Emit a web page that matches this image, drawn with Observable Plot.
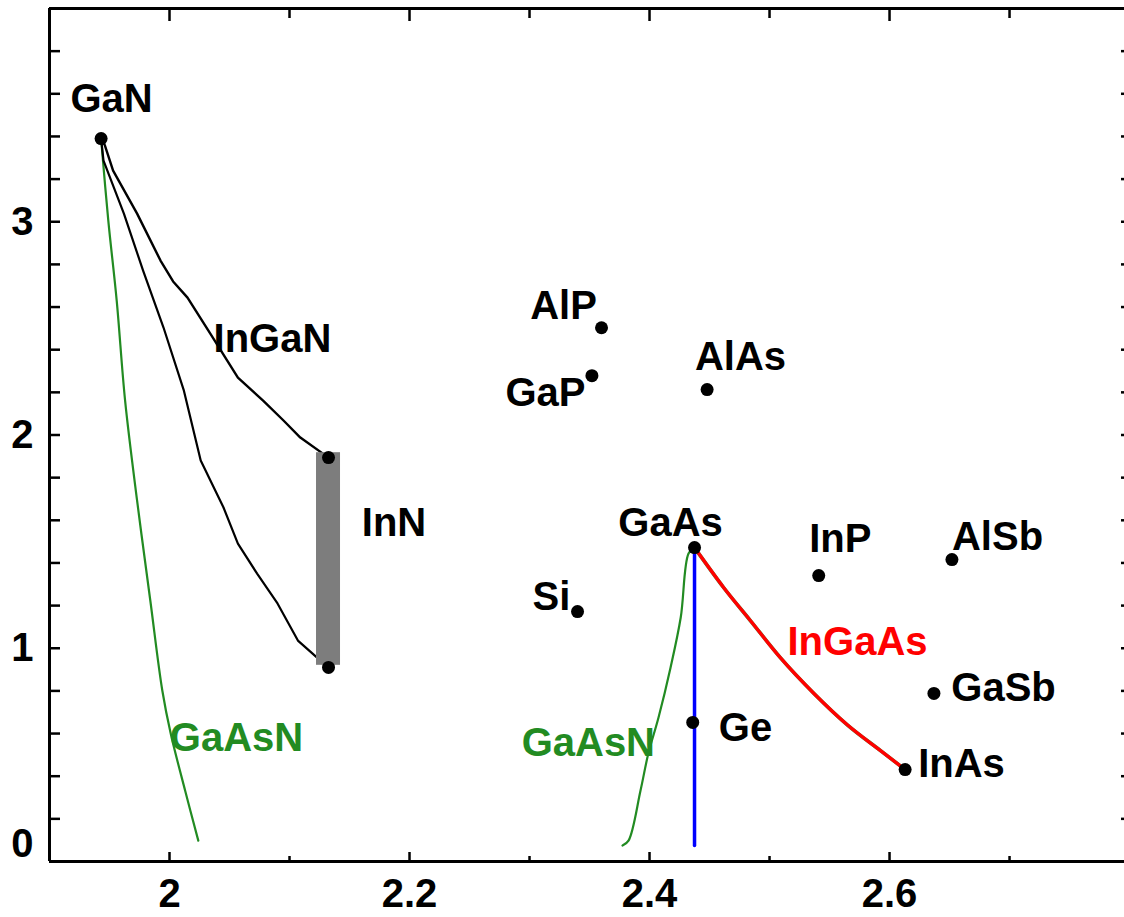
<!DOCTYPE html>
<html><head><meta charset="utf-8">
<script src="https://cdn.jsdelivr.net/npm/d3@7"></script>
<script src="https://cdn.jsdelivr.net/npm/@observablehq/plot@0.6"></script>
<style>body{margin:0;background:#fff}</style>
</head><body><div id="chart"></div>
<script>
// --- compounds (x: bond length, y: band gap) ---
const compoundNames = ["GaN","InN","InN","AlP","GaP","AlAs","GaAs","InP","AlSb","Si","Ge","GaSb","InAs"];
const compoundX = [1.943, 2.1325, 2.1325, 2.360, 2.352, 2.448, 2.4375, 2.541, 2.652, 2.340, 2.436, 2.637, 2.613];
const compoundY = [3.39, 1.894, 0.91, 2.503, 2.278, 2.213, 1.472, 1.341, 1.416, 1.172, 0.652, 0.788, 0.431];

// --- compound labels ---
const labelText = ["GaN","InN","AlP","GaP","AlAs","GaAs","InP","AlSb","Si","Ge","GaSb","InAs"];
const labelX = [1.9517, 2.1871, 2.3283, 2.3133, 2.4758, 2.4175, 2.559, 2.690, 2.3183, 2.480, 2.695, 2.660];
const labelY = [3.573, 1.585, 2.603, 2.195, 2.363, 1.585, 1.510, 1.519, 1.238, 0.624, 0.811, 0.455];

// --- alloy labels ---
const alloyText = ["InGaN","InGaAs","GaAsN","GaAsN"];
const alloyX = [2.0858, 2.5733, 2.0558, 2.349];
const alloyY = [2.448, 1.027, 0.577, 0.553];

// --- curves ---
const ganGaAsNX = [1.943, 1.949, 1.956, 1.963, 1.973, 1.984, 1.994, 2.001, 2.013, 2.024];
const ganGaAsNY = [3.39, 3.005, 2.63, 2.161, 1.692, 1.224, 0.802, 0.60, 0.333, 0.098];

const inganUpperX = [1.943, 1.946, 1.953, 1.973, 1.9925, 2.003, 2.015, 2.034, 2.057, 2.078, 2.095, 2.109, 2.1325];
const inganUpperY = [3.39, 3.36, 3.24, 3.038, 2.818, 2.72, 2.644, 2.475, 2.269, 2.161, 2.068, 1.988, 1.894];

const inganLowerX = [1.943, 1.945, 1.962, 1.978, 1.995, 2.012, 2.026, 2.045, 2.057, 2.073, 2.090, 2.107, 2.123, 2.1325];
const inganLowerY = [3.39, 3.287, 3.038, 2.771, 2.504, 2.208, 1.88, 1.66, 1.491, 1.35, 1.21, 1.036, 0.956, 0.91];

const gaasGaAsNX = [2.4375, 2.4325, 2.426, 2.4175, 2.4075, 2.399, 2.3925, 2.3825, 2.3775];
const gaasGaAsNY = [1.472, 1.444, 1.144, 0.909, 0.675, 0.506, 0.333, 0.098, 0.075];

const ingaasX = [2.4375, 2.4617, 2.484, 2.509, 2.537, 2.565, 2.5925, 2.613];
const ingaasY = [1.472, 1.285, 1.13, 0.956, 0.788, 0.64, 0.52, 0.431];

const gaasGeX = [2.4375, 2.4375];
const gaasGeY = [1.472, 0.075];

// InN band-gap range
const innRangeX = [2.1225, 2.1425];
const innRangeY = [0.92, 1.917];

// --- ticks ---
const xTicksLabeled = [2, 2.2, 2.4, 2.6];
const xTicksMinor = [2.1, 2.3, 2.5, 2.7];
const xTicksTopMajor = [2.0, 2.2, 2.4, 2.6];
const xTicksTopMinor = [2.1, 2.3, 2.5, 2.7];
const yTicksLabeled = [1, 2, 3];
const yTickZero = [0];
const yTicksAll = [0.2,0.4,0.6,0.8,1.0,1.2,1.4,1.6,1.8,2.0,2.2,2.4,2.6,2.8,3.0,3.2,3.4,3.6,3.8];

const rows = (xs, ys) => xs.map((x, i) => ({x, y: ys[i]}));
const FONT = 40;

const chart = Plot.plot({
  width: 1124, height: 917,
  marginLeft: 49, marginRight: 0, marginTop: 8, marginBottom: 56,
  x: {domain: [1.9, 2.7958], label: null},
  y: {domain: [0, 4], label: null},
  style: {fontFamily: "'Liberation Sans', Arial, sans-serif", fontWeight: "bold", fontSize: FONT + "px", background: "white", color: "black"},
  marks: [
    // frame
    Plot.ruleY([4], {strokeWidth: 3}),
    Plot.ruleY([0], {strokeWidth: 3}),
    Plot.ruleX([1.9], {strokeWidth: 3}),
    // bottom ticks + labels
    Plot.axisX(xTicksLabeled, {anchor: "bottom", tickSize: -9, strokeWidth: 2.5, fill: "none", label: null}),
    Plot.axisX(xTicksMinor, {anchor: "bottom", tickSize: -5, strokeWidth: 2.5, fill: "none", label: null}),
    Plot.axisX(xTicksLabeled, {anchor: "bottom", tickSize: 0, tickPadding: 17, fontSize: FONT, fontWeight: "bold", tickFormat: d => String(+d.toFixed(1)), label: null}),
    // top ticks
    Plot.axisX(xTicksTopMajor, {anchor: "top", tickSize: -12, strokeWidth: 2.5, fill: "none", label: null}),
    Plot.axisX(xTicksTopMinor, {anchor: "top", tickSize: -9, strokeWidth: 2.5, fill: "none", label: null}),
    // left ticks + labels
    Plot.axisY(yTicksAll, {anchor: "left", tickSize: -11, strokeWidth: 2.5, fill: "none", label: null}),
    Plot.axisY(yTicksLabeled, {anchor: "left", tickSize: 0, tickPadding: 16, fontSize: FONT, fontWeight: "bold", tickFormat: d => String(d), label: null}),
    Plot.axisY(yTickZero, {anchor: "left", tickSize: 0, tickPadding: 16, dy: -17, fontSize: FONT, fontWeight: "bold", tickFormat: d => String(d), label: null}),
    // right ticks
    Plot.axisY(yTicksAll, {anchor: "right", tickSize: -4, strokeWidth: 2.5, fill: "none", label: null}),

    // curves
    Plot.line(rows(ganGaAsNX, ganGaAsNY), {x: "x", y: "y", stroke: "#228b22", strokeWidth: 2.2, curve: "catmull-rom"}),
    Plot.line(rows(gaasGaAsNX, gaasGaAsNY), {x: "x", y: "y", stroke: "#228b22", strokeWidth: 2.2, curve: "catmull-rom"}),
    Plot.line(rows(inganUpperX, inganUpperY), {x: "x", y: "y", stroke: "black", strokeWidth: 2.4}),
    Plot.line(rows(inganLowerX, inganLowerY), {x: "x", y: "y", stroke: "black", strokeWidth: 2.2}),
    Plot.rect([{x1: innRangeX[0], x2: innRangeX[1], y1: innRangeY[0], y2: innRangeY[1]}], {x1: "x1", x2: "x2", y1: "y1", y2: "y2", fill: "#7d7d7d"}),
    Plot.line(rows(gaasGeX, gaasGeY), {x: "x", y: "y", stroke: "#0000ff", strokeWidth: 3.5}),
    Plot.line(rows(ingaasX, ingaasY), {x: "x", y: "y", stroke: "#3a9a4a", strokeWidth: 3.6, curve: "monotone-x"}),
    Plot.line(rows(ingaasX, ingaasY), {x: "x", y: "y", stroke: "#ff0000", strokeWidth: 3.4, curve: "monotone-x"}),

    // compounds
    Plot.dot(rows(compoundX, compoundY), {x: "x", y: "y", r: 6.5, fill: "black"}),
    Plot.text(labelText.map((t, i) => ({t, x: labelX[i], y: labelY[i]})), {x: "x", y: "y", text: "t", fill: "black", fontSize: FONT, fontWeight: "bold"}),
    Plot.text(alloyText.map((t, i) => ({t, x: alloyX[i], y: alloyY[i]})), {x: "x", y: "y", text: "t", fontSize: FONT, fontWeight: "bold",
      fill: d => d.t === "InGaAs" ? "#ff0000" : d.t === "GaAsN" ? "#228b22" : "black"})
  ]
});
document.getElementById("chart").appendChild(chart);
</script>
</body></html>
